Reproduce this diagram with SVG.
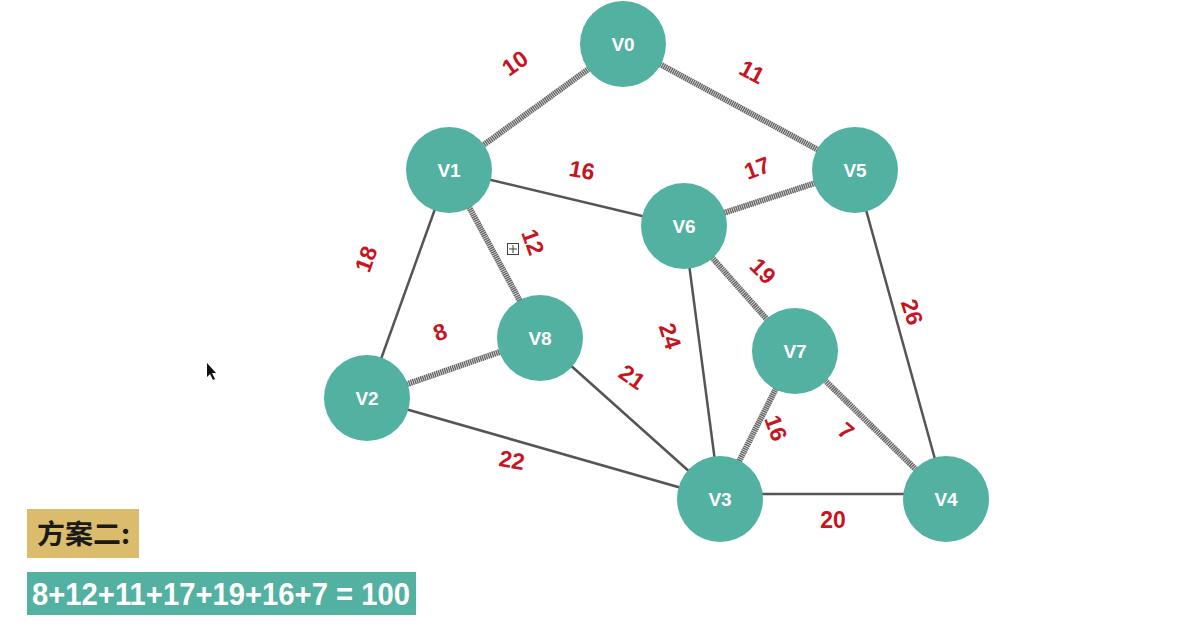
<svg xmlns="http://www.w3.org/2000/svg" width="1200" height="625" viewBox="0 0 1200 625">
<style>
.node circle{fill:#52b1a1;}
.node text{fill:#fff;font-family:"Liberation Sans",Arial,sans-serif;font-weight:bold;font-size:19px;text-anchor:middle;}
.thin{stroke:#555;stroke-width:2.5;fill:none;}
.thick{stroke:#666;stroke-width:6;fill:none;stroke-dasharray:1.5 0.6;}
.w{fill:#c8141e;font-family:"Liberation Sans",Arial,sans-serif;font-weight:bold;font-size:23px;text-anchor:middle;dominant-baseline:central;}
</style>
<rect width="1200" height="625" fill="#fff"/>
<g id="connectors">
<line class="thick" x1="623" y1="44" x2="449" y2="170"/>
<line class="thick" x1="623" y1="44" x2="855" y2="170"/>
<line class="thin" x1="449" y1="170" x2="684" y2="226"/>
<line class="thick" x1="684" y1="226" x2="855" y2="170"/>
<line class="thick" x1="449" y1="170" x2="540" y2="338"/>
<line class="thin" x1="449" y1="170" x2="367" y2="398"/>
<line class="thick" x1="367" y1="398" x2="540" y2="338"/>
<line class="thin" x1="540" y1="338" x2="720" y2="499"/>
<line class="thin" x1="367" y1="398" x2="720" y2="499"/>
<line class="thin" x1="684" y1="226" x2="720" y2="499"/>
<line class="thick" x1="684" y1="226" x2="795" y2="351"/>
<line class="thick" x1="795" y1="351" x2="720" y2="499"/>
<line class="thick" x1="795" y1="351" x2="946" y2="499"/>
<line class="thin" x1="720" y1="494" x2="946" y2="494"/>
<line class="thin" x1="855" y1="170" x2="946" y2="499"/>
</g>
<g id="weights">
<text class="w" transform="translate(515,63) rotate(-35)">10</text>
<text class="w" transform="translate(752,72) rotate(28)">11</text>
<text class="w" transform="translate(582,170) rotate(10)">16</text>
<text class="w" transform="translate(757,168) rotate(-20)">17</text>
<text class="w" transform="translate(533,242) rotate(70)">12</text>
<text class="w" transform="translate(366,259) rotate(-70)">18</text>
<text class="w" transform="translate(440,332) rotate(-20)">8</text>
<text class="w" transform="translate(632,377) rotate(35)">21</text>
<text class="w" transform="translate(670,336) rotate(72)">24</text>
<text class="w" transform="translate(763,271) rotate(45)">19</text>
<text class="w" transform="translate(912,312) rotate(72)">26</text>
<text class="w" transform="translate(776,428) rotate(70)">16</text>
<text class="w" transform="translate(846,431) rotate(40)">7</text>
<text class="w" transform="translate(833,520)">20</text>
<text class="w" transform="translate(512,460) rotate(10)">22</text>
</g>
<g id="V0" class="node"><circle cx="623" cy="44" r="43"/><text x="623" y="51">V0</text></g>
<g id="V1" class="node"><circle cx="449" cy="170" r="43"/><text x="449" y="177">V1</text></g>
<g id="V5" class="node"><circle cx="855" cy="170" r="43"/><text x="855" y="177">V5</text></g>
<g id="V6" class="node"><circle cx="684" cy="226" r="43"/><text x="684" y="233">V6</text></g>
<g id="V8" class="node"><circle cx="540" cy="338" r="43"/><text x="540" y="345">V8</text></g>
<g id="V2" class="node"><circle cx="367" cy="398" r="43"/><text x="367" y="405">V2</text></g>
<g id="V7" class="node"><circle cx="795" cy="351" r="43"/><text x="795" y="358">V7</text></g>
<g id="V3" class="node"><circle cx="720" cy="499" r="43"/><text x="720" y="506">V3</text></g>
<g id="V4" class="node"><circle cx="946" cy="499" r="43"/><text x="946" y="506">V4</text></g>
<g id="icon" fill="none" stroke="#444" stroke-width="1">
<rect x="507.5" y="243.5" width="11" height="11"/>
<line x1="513" y1="245" x2="513" y2="253"/>
<line x1="509" y1="249" x2="517" y2="249"/>
</g>
<polygon points="207,363 207,377 210,374 213,380 215,379 212,373 216,373" fill="#111"/>
<g id="plan">
<rect x="27" y="509" width="112" height="49" fill="#dbbb6c"/>
<text x="37" y="544" font-family="'Noto Sans CJK SC',sans-serif" font-weight="bold" font-size="27" fill="#1a1a1a" textLength="93" lengthAdjust="spacingAndGlyphs">方案二:</text>
</g>
<g id="sum">
<rect x="27" y="572" width="389" height="43" fill="#52b1a1"/>
<text x="32" y="605" font-family="'Liberation Sans',Arial,sans-serif" font-weight="bold" font-size="32" fill="#fff" textLength="378" lengthAdjust="spacingAndGlyphs">8+12+11+17+19+16+7 = 100</text>
</g>
</svg>
